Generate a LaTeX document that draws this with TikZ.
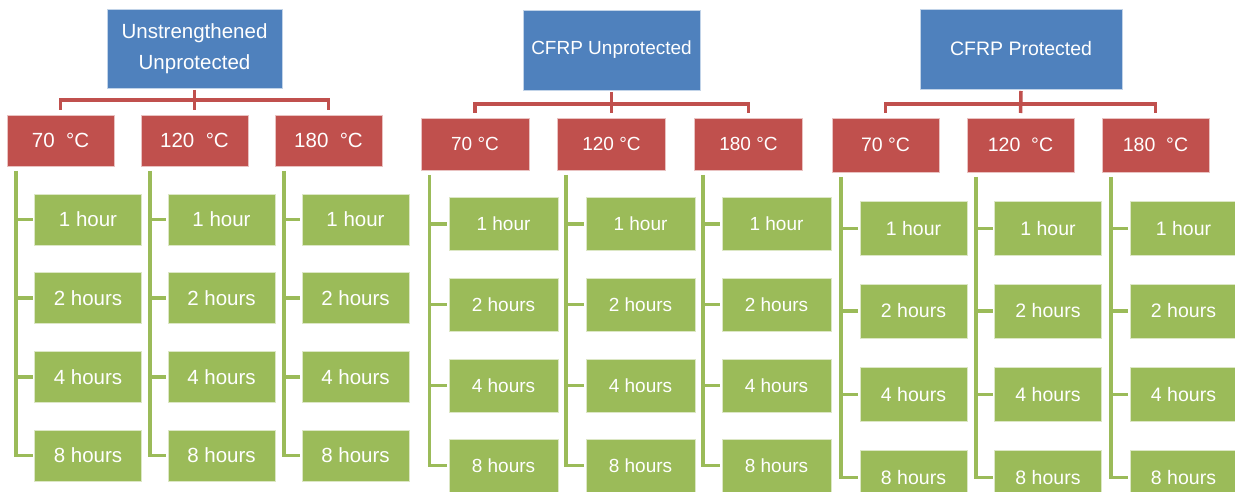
\documentclass[tikz,border=0pt]{standalone}
\usepackage{fontspec}
\setmainfont{Liberation Sans}
\usetikzlibrary{calc}
\definecolor{cblue}{HTML}{4F81BD}
\definecolor{cred}{HTML}{C0504D}
\definecolor{cgreen}{HTML}{9BBB59}
\begin{document}
\begin{tikzpicture}[x=1pt,y=-1pt,
  box/.style={rectangle, inner sep=0pt, outer sep=0pt, text=white, align=center, line width=0.8pt},
  bluebox/.style={box, fill=cblue, draw=cblue!35!white},
  redbox/.style={box, fill=cred, draw=cred!35!white},
  greenbox/.style={box, fill=cgreen, draw=cgreen!35!white},
  rline/.style={draw=cred, line width=3.5pt},
  gline/.style={draw=cgreen, line width=3.5pt},
]
\clip (0,0) rectangle (1235,492);
\fill[white] (0,0) rectangle (1235,492);

% ---------------- Group 1 ----------------
\begin{scope}[every node/.append style={font=\fontsize{20.5}{31}\selectfont}]
\node[bluebox, minimum width=175pt, minimum height=79pt] (b1) at (194.5,48.5) {Unstrengthened\\Unprotected};
\foreach \c/\rx/\gx/\lab in {1/60.5/88/{70~~°C}, 2/194.5/221.5/{120~~°C}, 3/328.5/355.5/{180~~°C}} {
  \node[redbox, minimum width=107pt, minimum height=51pt] (r1\c) at (\rx,140.5) {\lab};
  \foreach \j/\y/\t in {1/219.5/1 hour, 2/298/2 hours, 3/377/4 hours, 4/455.5/8 hours} {
    \node[greenbox, minimum width=107pt, minimum height=51pt] (g1\c\j) at (\gx,\y) {\t};
  }
  \coordinate (l1\c) at ($(r1\c.south west)+(9,5)$);
  \draw[gline] (l1\c) |- ($(g1\c4.west)+(-2,0)$);
  \foreach \j in {1,2,3} {
    \draw[gline] (l1\c |- g1\c\j.west) -- ($(g1\c\j.west)+(-2,0)$);
  }
}
\draw[rline] ($(r11.north)+(0,-5)$) |- ($(b1.south)+(0,12)$) -| ($(r13.north)+(0,-5)$);
\draw[rline] ($(b1.south)+(0,2)$) -- ($(r12.north)+(0,-5)$);
\end{scope}

% ---------------- Group 2 ----------------
\begin{scope}[every node/.append style={font=\fontsize{19}{28}\selectfont}]
\node[bluebox, minimum width=177pt, minimum height=80pt] (b2) at (611.5,50) {CFRP Unprotected};
\foreach \c/\rx/\gx/\lab in {1/475/503.5/{70~°C}, 2/611.5/640.5/{120~°C}, 3/748.5/776.5/{180~°C}} {
  \node[redbox, minimum width=108pt, minimum height=52pt] (r2\c) at (\rx,144) {\lab};
  \foreach \j/\y/\t in {1/224/1 hour, 2/304.5/2 hours, 3/385.5/4 hours, 4/465.5/8 hours} {
    \node[greenbox, minimum width=109pt, minimum height=53pt] (g2\c\j) at (\gx,\y) {\t};
  }
  \coordinate (l2\c) at ($(r2\c.south west)+(8.5,5)$);
  \draw[gline] (l2\c) |- ($(g2\c4.west)+(-2,0)$);
  \foreach \j in {1,2,3} {
    \draw[gline] (l2\c |- g2\c\j.west) -- ($(g2\c\j.west)+(-2,0)$);
  }
}
\draw[rline] ($(r21.north)+(0,-5)$) |- ($(b2.south)+(0,14)$) -| ($(r23.north)+(0,-5)$);
\draw[rline] ($(b2.south)+(0,2)$) -- ($(r22.north)+(0,-5)$);
\end{scope}

% ---------------- Group 3 ----------------
\begin{scope}[every node/.append style={font=\fontsize{19.5}{28}\selectfont}]
\node[bluebox, minimum width=202pt, minimum height=80pt] (b3) at (1021,49) {CFRP Protected};
\foreach \c/\rx/\gx/\lab in {1/885.5/913.5/{70~°C}, 2/1020.5/1048/{120~~°C}, 3/1155.5/1183.5/{180~~°C}} {
  \node[redbox, minimum width=107pt, minimum height=54pt] (r3\c) at (\rx,145) {\lab};
  \foreach \j/\y/\t in {1/228.5/1 hour, 2/311/2 hours, 3/394.5/4 hours, 4/477.5/8 hours} {
    \node[greenbox, minimum width=107pt, minimum height=54pt] (g3\c\j) at (\gx,\y) {\t};
  }
  \coordinate (l3\c) at ($(r3\c.south west)+(9,5)$);
  \draw[gline] (l3\c) |- ($(g3\c4.west)+(-2,0)$);
  \foreach \j in {1,2,3} {
    \draw[gline] (l3\c |- g3\c\j.west) -- ($(g3\c\j.west)+(-2,0)$);
  }
}
\draw[rline] ($(r31.north)+(0,-5)$) |- ($(b3.south)+(0,15)$) -| ($(r33.north)+(0,-5)$);
\draw[rline] ($(b3.south)+(0,2)$) -- ($(r32.north)+(0,-5)$);
\end{scope}
\end{tikzpicture}
\end{document}
